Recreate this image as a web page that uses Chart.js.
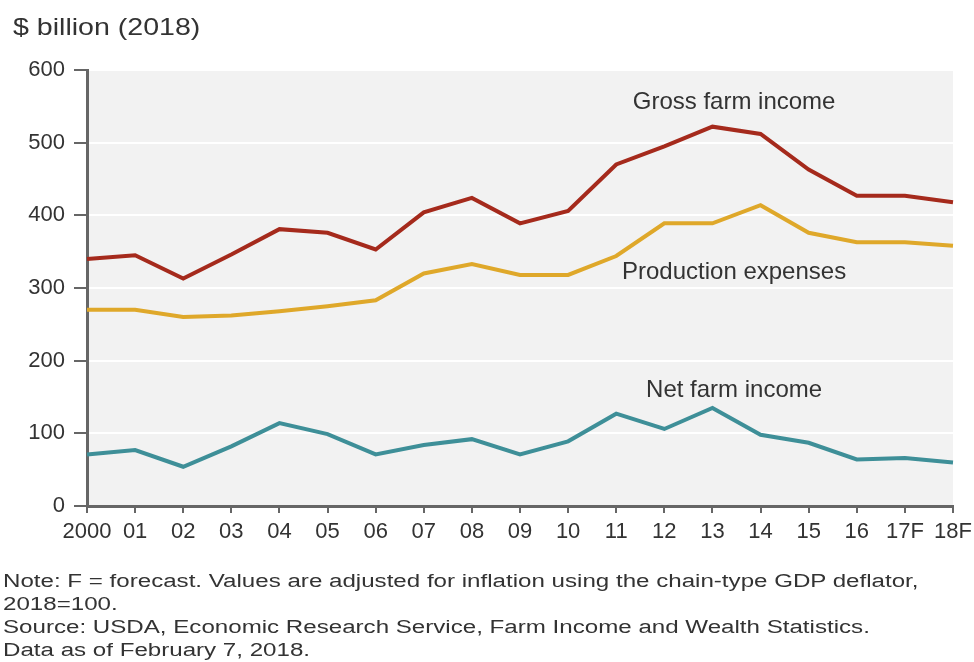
<!DOCTYPE html>
<html>
<head>
<meta charset="utf-8">
<script src="https://cdn.jsdelivr.net/npm/chart.js@4"></script>
<style>
  body { margin: 0; background: #fff; font-family: "Liberation Sans", Arial, sans-serif; }
  #wrap { position: relative; width: 974px; height: 662px; overflow: hidden; }
  #chart { position: absolute; left: 0; top: 0; }
  #title { position: absolute; left: 13px; top: 13px; font-size: 24px; color: #333; transform: scaleX(1.19); transform-origin: left; white-space: nowrap; }
  #note { position: absolute; left: 3px; top: 570px; font-size: 18px; line-height: 23px; color: #333; transform: scaleX(1.34); transform-origin: left; white-space: nowrap; }
</style>
</head>
<body>
<div id="wrap">
  <canvas id="chart" width="974" height="662"></canvas>
  <div id="title">$ billion (2018)</div>
  <div id="note">Note: F = forecast. Values are adjusted for inflation using the chain-type GDP deflator,<br>2018=100.<br>Source: USDA, Economic Research Service, Farm Income and Wealth Statistics.<br>Data as of February 7, 2018.</div>
</div>
<script>
const years = ['2000', '01', '02', '03', '04', '05', '06', '07', '08', '09',
  '10', '11', '12', '13', '14', '15', '16', '17F', '18F'];

// $ billion, 2018 dollars
const grossFarmIncome = [340, 345, 313, 346, 381, 376, 353, 404, 424, 389,
  406, 470, 495, 522, 512, 463, 427, 427, 418];
const productionExpenses = [270, 270, 260, 262, 268, 275, 283, 320, 333, 318,
  318, 344, 389, 389, 414, 376, 363, 363, 358];
const netFarmIncome = [71, 77, 54, 82, 114, 99, 71, 84, 92, 71,
  89, 127, 106, 135, 98, 87, 64, 66, 60];

const seriesNames = ['Gross farm income', 'Production expenses', 'Net farm income'];
const seriesColors = ['#a52a1c', '#dfa82a', '#3e8f98'];
// where the in-chart labels sit: [category position, value]
const labelAnchors = [[13.45, 555], [13.45, 321], [13.45, 159]];

const plotBg = {
  id: 'plotBg',
  beforeDraw(chart) {
    const { ctx, chartArea: a } = chart;
    ctx.save();
    ctx.fillStyle = '#f2f2f2';
    ctx.fillRect(a.left, a.top, a.right - a.left, a.bottom - a.top);
    ctx.restore();
  }
};

const seriesLabels = {
  id: 'seriesLabels',
  afterDatasetsDraw(chart) {
    const { ctx } = chart;
    const xs = chart.scales.x, ys = chart.scales.y;
    ctx.save();
    ctx.font = '24px "Liberation Sans", Arial, sans-serif';
    ctx.fillStyle = '#333';
    ctx.textAlign = 'center';
    ctx.textBaseline = 'middle';
    seriesNames.forEach((name, i) => {
      const [pos, val] = labelAnchors[i];
      ctx.fillText(name, xs.getPixelForValue(pos), ys.getPixelForValue(val));
    });
    ctx.restore();
  }
};

const datasets = [grossFarmIncome, productionExpenses, netFarmIncome].map((vals, i) => ({
  label: seriesNames[i],
  data: vals,
  borderColor: seriesColors[i],
  borderWidth: 4,
  pointRadius: 0,
  tension: 0,
  fill: false
}));

new Chart(document.getElementById('chart'), {
  type: 'line',
  data: { labels: years, datasets },
  plugins: [plotBg, seriesLabels],
  options: {
    responsive: false,
    animation: false,
    layout: { padding: { top: 70, right: 21, bottom: 106, left: 0 } },
    plugins: { legend: { display: false }, tooltip: { enabled: false } },
    scales: {
      x: {
        offset: false,
        afterFit: s => { s.height = 50; s.paddingRight = 0; s.paddingLeft = 0; },
        grid: { drawOnChartArea: false, tickLength: 7, tickColor: '#666', lineWidth: 2 },
        border: { color: '#666', width: 3 },
        ticks: {
          color: '#333', padding: 6, maxRotation: 0, autoSkip: false,
          font: { size: 22, family: '"Liberation Sans", Arial, sans-serif' }
        }
      },
      y: {
        min: 0, max: 600,
        afterFit: s => { s.width = 87; },
        grid: { color: '#ffffff', lineWidth: 2, tickLength: 13, tickColor: '#666' },
        border: { color: '#666', width: 3 },
        ticks: {
          stepSize: 100, color: '#333', padding: 9,
          font: { size: 22, family: '"Liberation Sans", Arial, sans-serif' }
        }
      }
    }
  }
});
</script>
</body>
</html>
